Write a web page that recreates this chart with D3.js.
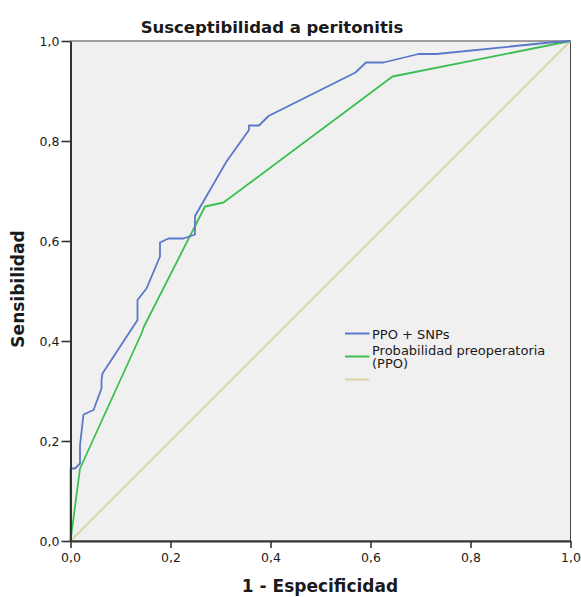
<!DOCTYPE html>
<html>
<head>
<meta charset="utf-8">
<script src="https://cdn.jsdelivr.net/npm/d3@7"></script>
<style>
  html, body { margin: 0; padding: 0; background: #fff; }
  svg { display: block; }
  text { font-family: "DejaVu Sans", Verdana, sans-serif; fill: #1a1a1a; }
</style>
</head>
<body>
<svg id="chart" width="581" height="597"></svg>
<script>
// ---- Data ----
const title = "Susceptibilidad a peritonitis";
const xLabel = "1 - Especificidad";
const yLabel = "Sensibilidad";
const tickValues = [0, 0.2, 0.4, 0.6, 0.8, 1.0];
const tickLabels = ["0,0", "0,2", "0,4", "0,6", "0,8", "1,0"];

const seriesNames = ["PPO + SNPs", "Probabilidad preoperatoria|(PPO)", ""];

// PPO + SNPs ROC curve: [1 - especificidad, sensibilidad]
const rocPpoSnps = [
  [0, 0], [0, 0.145], [0.009, 0.145], [0.019, 0.155], [0.019, 0.192],
  [0.026, 0.253], [0.046, 0.262], [0.062, 0.305], [0.062, 0.322], [0.064, 0.335],
  [0.134, 0.442], [0.134, 0.482], [0.152, 0.505], [0.179, 0.569], [0.179, 0.597],
  [0.196, 0.605], [0.226, 0.605], [0.249, 0.613], [0.249, 0.65], [0.312, 0.759],
  [0.357, 0.822], [0.357, 0.831], [0.377, 0.831], [0.396, 0.85], [0.570, 0.937],
  [0.591, 0.957], [0.626, 0.957], [0.696, 0.974], [0.732, 0.974], [0.959, 0.997],
  [1, 1]
];
// Probabilidad preoperatoria (PPO) ROC curve
const rocPpo = [
  [0, 0], [0.019, 0.145], [0.142, 0.415], [0.147, 0.429], [0.269, 0.669],
  [0.306, 0.677], [0.644, 0.929], [1, 1]
];
// Reference diagonal
const rocRef = [[0, 0], [1, 1]];

const colors = ["#5a78c8", "#3cbf50", "#d9d4a2"];

// ---- Layout ----
const svg = d3.select("#chart");
const margin = { left: 70.5, top: 41, right: 10.5, bottom: 56 };
const W = 581, H = 597;
const pw = W - margin.left - margin.right; // 500
const ph = H - margin.top - margin.bottom; // 500

const x = d3.scaleLinear().domain([0, 1]).range([margin.left, margin.left + pw]);
const y = d3.scaleLinear().domain([0, 1]).range([margin.top + ph, margin.top]);

// panel
svg.append("rect")
  .attr("x", x(0)).attr("y", y(1))
  .attr("width", pw).attr("height", ph)
  .attr("fill", "#f0f0f0")
  .attr("stroke", "#444").attr("stroke-width", 1);

// lines
const line = d3.line().x(d => x(d[0])).y(d => y(d[1]));
const series = [rocPpoSnps, rocPpo, rocRef];
[2, 1, 0].forEach(i => {
  svg.append("path")
    .datum(series[i])
    .attr("d", line)
    .attr("fill", "none")
    .attr("stroke", colors[i])
    .attr("stroke-width", i === 2 ? 1.8 : 1.8)
    .attr("stroke-linejoin", "round");
});

// axes
const xAxis = d3.axisBottom(x).tickValues(tickValues)
  .tickFormat((d, i) => tickLabels[i]).tickSize(7).tickSizeOuter(0).tickPadding(5);
const yAxis = d3.axisLeft(y).tickValues(tickValues)
  .tickFormat((d, i) => tickLabels[i]).tickSize(9).tickSizeOuter(0).tickPadding(2);

const gx = svg.append("g").attr("transform", `translate(0,${y(0)})`).call(xAxis);
const gy = svg.append("g").attr("transform", `translate(${x(0)},0)`).call(yAxis);
[gx, gy].forEach(g => {
  g.select(".domain").attr("stroke", "#333").attr("stroke-width", 2);
  g.selectAll(".tick line").attr("stroke", "#333").attr("stroke-width", 1.6);
  g.selectAll(".tick text")
    .attr("font-family", "DejaVu Sans, sans-serif")
    .attr("font-size", 12.5)
    .attr("fill", "#1a1a2a");
});

// title
svg.append("text")
  .attr("x", 272).attr("y", 33)
  .attr("text-anchor", "middle")
  .attr("font-size", 16.5).attr("font-weight", "bold")
  .text(title);

// x label
svg.append("text")
  .attr("x", 320).attr("y", 592)
  .attr("text-anchor", "middle")
  .attr("font-size", 17).attr("font-weight", "bold")
  .text(xLabel);

// y label
svg.append("text")
  .attr("transform", "translate(24,289) rotate(-90)")
  .attr("text-anchor", "middle")
  .attr("font-size", 17).attr("font-weight", "bold")
  .text(yLabel);

// legend
const legY = [333.5, 356.5, 379.5];
const legText = [[339], [354.5, 368], []];
seriesNames.forEach((name, i) => {
  svg.append("line")
    .attr("x1", 345).attr("x2", 369.5)
    .attr("y1", legY[i]).attr("y2", legY[i])
    .attr("stroke", colors[i]).attr("stroke-width", 2);
  if (name) {
    name.split("|").forEach((part, j) => {
      svg.append("text")
        .attr("x", 372).attr("y", legText[i][j])
        .attr("font-size", 13)
        .text(part);
    });
  }
});
</script>
</body>
</html>
